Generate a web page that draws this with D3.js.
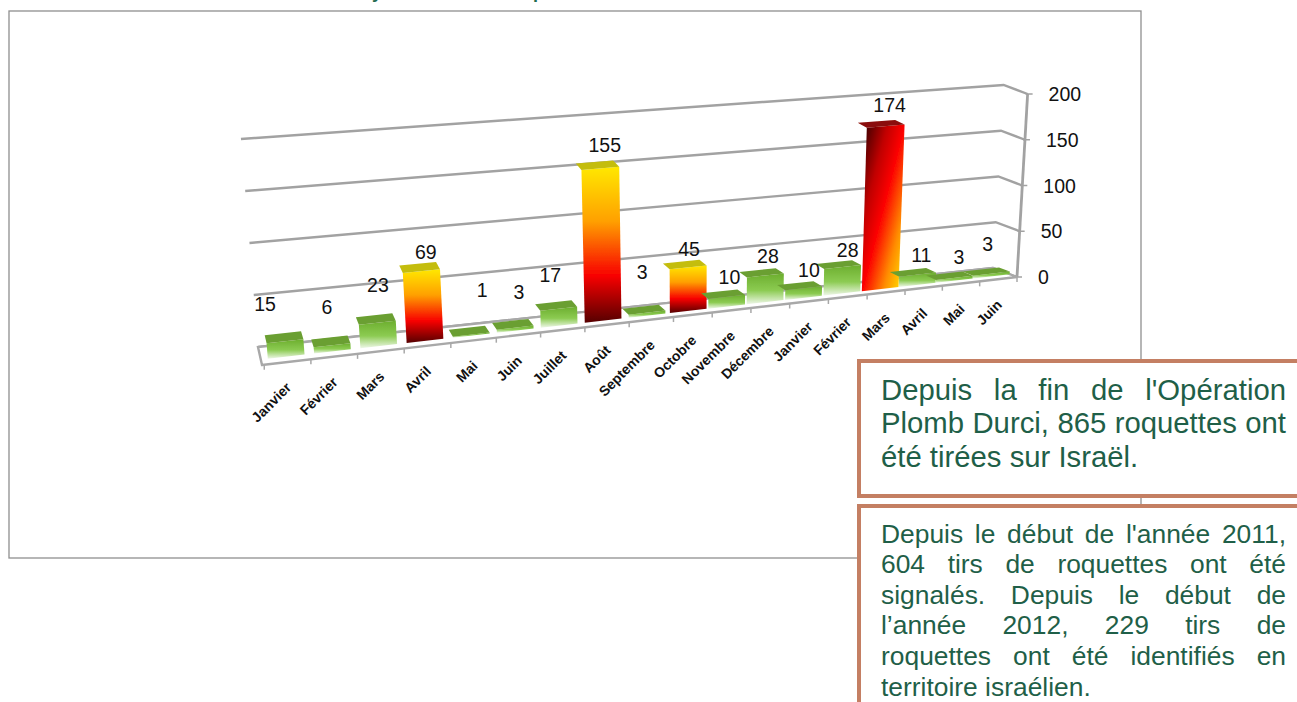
<!DOCTYPE html>
<html>
<head>
<meta charset="utf-8">
<script src="https://cdn.jsdelivr.net/npm/d3@7"></script>
<style>
  html, body { margin: 0; padding: 0; background: #fff; overflow: hidden; }
  text { font-family: "Liberation Sans", Arial, sans-serif; }
</style>
</head>
<body>
<div id="chart"></div>
<script>
var categories = ["Janvier","Février","Mars","Avril","Mai","Juin","Juillet","Août","Septembre","Octobre","Novembre","Décembre","Janvier","Février","Mars","Avril","Mai","Juin"];
var values = [15,6,23,69,1,3,17,155,3,45,10,28,10,28,174,11,3,3];
var valueTicks = [0,50,100,150,200];

var box1Lines = ["Depuis la fin de l'Opération","Plomb Durci, 865 roquettes ont","été tirées sur Israël."];
var box2Lines = ["Depuis le début de l'année 2011,","604 tirs de roquettes ont été","signalés. Depuis le début de","l’année 2012, 229 tirs de","roquettes ont été identifiés en","territoire israélien."];

// the labels were placed by hand in the original, these push them off the bars
var labelDx = [-19,-4,2,6,13,6,-6,7,-2,4,6,6,9,9,8,8,9,1];
var labelDy = [-15,-16,-15,3,-23,-14,-12,-1,-19,3,2,2,3,4,0,1,0,-9];

var svg = d3.select("#chart").append("svg")
  .attr("width", 1297)
  .attr("height", 702);

var defs = svg.append("defs");

function addGradient(id, x2, y2, stops){
  var g = defs.append("linearGradient").attr("id", id)
    .attr("x1", 0).attr("y1", 0).attr("x2", x2).attr("y2", y2);
  stops.forEach(function(s){
    g.append("stop").attr("offset", s[0]).attr("stop-color", s[1]);
  });
}
addGradient("green", 0, 1, [[0,"#6cae2e"],[0.55,"#8ccb52"],[1,"#eef7e8"]]);
addGradient("hot", 0, 1, [[0,"#ffe800"],[0.35,"#ffa000"],[0.7,"#f80000"],[1,"#560000"]]);
addGradient("hotMax", 1, 1, [[0,"#2a0000"],[0.3,"#c00000"],[0.5,"#fc0000"],[0.75,"#ff8c00"],[1,"#ffee00"]]);
defs.append("filter").attr("id", "soft")
  .append("feGaussianBlur").attr("stdDeviation", 0.6);

// chart frame
svg.append("rect")
  .attr("x", 9).attr("y", 11).attr("width", 1132).attr("height", 547)
  .attr("fill", "#fff").attr("stroke", "#8f8f8f").attr("stroke-width", 1.3);

// title is cut off by the top of the picture, only the descenders show
svg.selectAll(".titlebit").data(["y","p"]).enter().append("text")
  .attr("x", function(d, i){ return i == 0 ? 372 : 533; })
  .attr("y", -2)
  .attr("font-size", 18).attr("font-weight", "bold").attr("fill", "#1f6b50")
  .text(function(d){ return d; });

// band along the floor, then bent a little for the perspective
var band = d3.scaleBand().domain(d3.range(categories.length)).range([0, 1]);
var bend = d3.scaleLinear().domain([0, 0.25, 0.5, 0.8, 1]).range([0.003, 0.281, 0.545, 0.822, 1]);
var y = d3.scaleLinear().domain([0, 200]).range([0, 1]);

// u along the floor, d is depth (0 front, 1 back wall), v is the value
function project(u, d, v){
  var fx = 262 + 755 * u, fy = 365 - 88 * u;
  var bx = 258 + 735 * u, by = 347 - 79 * u;
  var h = y(v) * (208 - 25 * u);
  var lean = -0.082 + 0.14 * u;
  return [fx + (bx - fx) * d + h * lean, fy + (by - fy) * d - h];
}
function poly(pts){ return pts.map(function(p){ return p.join(","); }).join(" "); }
function center(i){ return bend(band(i) + band.bandwidth() / 2); }

var g = svg.append("g").attr("filter", "url(#soft)");

// back wall and side wall lines
valueTicks.forEach(function(t){
  g.append("polyline")
    .attr("points", poly([project(0, 1, t), project(1, 1, t), project(1, 0, t)]))
    .attr("fill", "none").attr("stroke", "#a2a2a2").attr("stroke-width", 2.4);
});

// right axis
g.append("line")
  .attr("x1", project(1, 0, 0)[0]).attr("y1", project(1, 0, 0)[1])
  .attr("x2", project(1, 0, 200)[0]).attr("y2", project(1, 0, 200)[1])
  .attr("stroke", "#a2a2a2").attr("stroke-width", 2.8);
g.selectAll(".ytick").data(valueTicks).enter().append("line")
  .attr("x1", function(d){ return project(1, 0, d)[0] - 2; })
  .attr("y1", function(d){ return project(1, 0, d)[1]; })
  .attr("x2", function(d){ return project(1, 0, d)[0] + 5; })
  .attr("y2", function(d){ return project(1, 0, d)[1]; })
  .attr("stroke", "#a2a2a2").attr("stroke-width", 1.5);

// floor
g.append("polygon")
  .attr("points", poly([project(0, 0, 0), project(1, 0, 0), project(1, 1, 0), project(0, 1, 0)]))
  .attr("fill", "#fff").attr("stroke", "#a8a8a8").attr("stroke-width", 2.4);

// small marks under the front edge
g.selectAll(".xtick").data(d3.range(categories.length + 1)).enter().append("line")
  .attr("x1", function(d){ return project(bend(d / categories.length), 0, 0)[0]; })
  .attr("y1", function(d){ return project(bend(d / categories.length), 0, 0)[1]; })
  .attr("x2", function(d){ return project(bend(d / categories.length), 0, 0)[0]; })
  .attr("y2", function(d){ return project(bend(d / categories.length), 0, 0)[1] + 5; })
  .attr("stroke", "#a8a8a8").attr("stroke-width", 1.5);

// bars
var halfBar = 0.0245, dFront = 0.3, dBack = 0.75;
var bars = g.selectAll(".bar").data(values).enter().append("g").attr("class", "bar");

bars.append("polygon")
  .attr("points", function(d, i){
    var u = center(i);
    return poly([project(u - halfBar, dFront, d), project(u + halfBar, dFront, d), project(u + halfBar, dFront, 0), project(u - halfBar, dFront, 0)]);
  })
  .attr("fill", function(d){
    if (d == d3.max(values)) return "url(#hotMax)";
    return d >= 45 ? "url(#hot)" : "url(#green)";
  });

bars.append("polygon")
  .attr("points", function(d, i){
    var u = center(i);
    return poly([project(u - halfBar, dFront, d), project(u + halfBar, dFront, d), project(u + halfBar, dBack, d), project(u - halfBar, dBack, d)]);
  })
  .attr("fill", function(d){
    if (d == d3.max(values)) return "#8a0a08";
    return d >= 45 ? "#c4bd10" : "#6b9f31";
  });

// value labels
svg.selectAll(".vlabel").data(values).enter().append("text")
  .attr("x", function(d, i){ return project(center(i), 0.5, d)[0] + labelDx[i]; })
  .attr("y", function(d, i){ return project(center(i), 0.5, d)[1] - 12 + labelDy[i]; })
  .attr("text-anchor", "middle")
  .attr("font-size", 19.5).attr("fill", "#111")
  .text(function(d){ return d; });

// value axis labels
svg.selectAll(".ylabel").data(valueTicks).enter().append("text")
  .attr("x", function(d){ return project(1, 0, d)[0] + 21; })
  .attr("y", function(d){ return project(1, 0, d)[1] + 7; })
  .attr("font-size", 19.5).attr("fill", "#111")
  .text(function(d){ return d; });

// category labels
svg.selectAll(".xlabel").data(categories).enter().append("text")
  .attr("transform", function(d, i){
    var p = project(center(i), 0, 0);
    return "translate(" + (p[0] + 1) + "," + (p[1] + 23) + ") rotate(-45)";
  })
  .attr("text-anchor", "end")
  .attr("dy", "0.35em")
  .attr("font-size", 14).attr("font-weight", "bold").attr("fill", "#111")
  .text(function(d){ return d; });

// text boxes on top of the frame
function textBox(top, h, lines, size, baselines){
  svg.append("rect")
    .attr("x", 859).attr("y", top).attr("width", 470).attr("height", h)
    .attr("fill", "#fff").attr("stroke", "#c47f63").attr("stroke-width", 4);
  lines.forEach(function(line, i){
    var t = svg.append("text")
      .attr("x", 881).attr("y", baselines[i])
      .attr("font-size", size).attr("fill", "#1f5f48")
      .text(line);
    // justify every line but the last
    if (i < lines.length - 1) {
      var gaps = line.split(" ").length - 1;
      t.attr("word-spacing", (405 - t.node().getComputedTextLength()) / gaps);
    }
  });
}
textBox(361, 135, box1Lines, 29.3, [400, 433, 467]);
textBox(506, 260, box2Lines, 26.4, [543, 573, 604, 634, 665, 696]);
</script>
</body>
</html>
